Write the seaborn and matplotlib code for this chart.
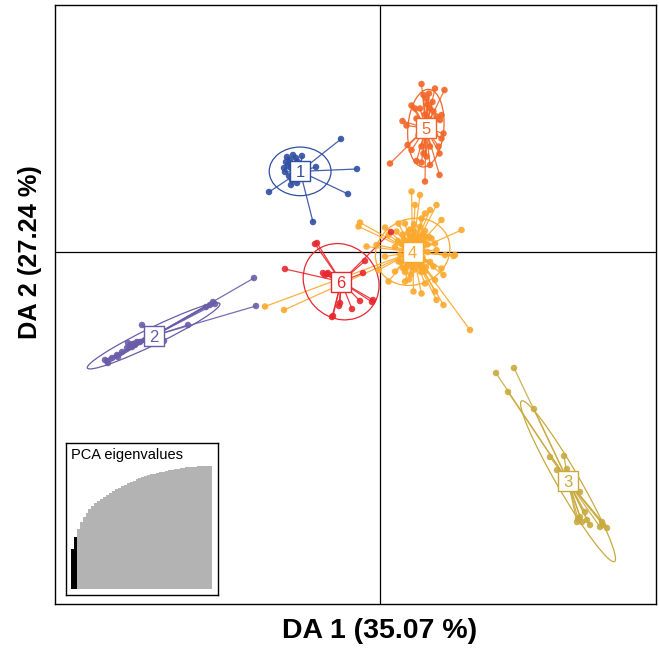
import numpy as np
import pandas as pd
import matplotlib
matplotlib.use("Agg")
import matplotlib.pyplot as plt
from matplotlib.patches import Ellipse
from matplotlib.collections import LineCollection
import seaborn as sns

sns.set_theme(style="white")
plt.rcParams['font.family'] = ['Liberation Sans', 'DejaVu Sans']
plt.rcParams['text.color'] = 'black'
plt.rcParams['axes.labelcolor'] = 'black'

# ---------------- data (DA1, DA2 coordinates per individual) ----------------
g1_x = [-0.78, -0.46, -0.64, -1.34, -2.22, -1.28, -1.86, -1.80, -1.74, -1.68, -1.84, -1.78,
        -1.90, -1.82, -1.76, -1.66, -1.60, -1.72, -1.64, -1.56, -1.88, -1.92, -1.78, -1.68]
g1_y = [2.26, 1.66, 1.16, 0.60, 1.20, 1.70, 1.90, 1.84, 1.94, 1.88, 1.74, 1.68,
        1.60, 1.52, 1.44, 1.38, 1.48, 1.62, 1.80, 1.92, 1.80, 1.68, 1.34, 1.56]

g2_x = [-2.52, -2.48, -3.34, -3.40, -3.48, -3.30, -3.84, -4.76, -4.32, -5.04, -4.96, -5.06,
        -5.16, -5.26, -5.36, -5.46, -5.44, -4.90, -4.86, -5.24, -5.50, -5.00, -4.94,
        -4.70, -4.80, -4.60]
g2_y = [-0.52, -1.08, -1.00, -1.06, -1.10, -1.04, -1.46, -1.46, -1.78, -1.82, -1.90, -1.92,
        -2.00, -2.06, -2.12, -2.18, -2.22, -1.86, -1.80, -2.10, -2.16, -1.88, -1.84,
        -1.76, -1.80, -1.70]

g3_x = [2.32, 2.68, 2.56, 3.08, 3.40, 3.68, 3.54, 3.74, 4.00, 3.96, 4.04, 4.20,
        4.46, 4.54, 4.40, 4.14, 4.00, 4.44, 4.10, 3.94]
g3_y = [-2.42, -2.32, -2.80, -3.14, -4.10, -4.08, -4.36, -4.34, -4.80, -5.34, -5.40, -5.46,
        -5.46, -5.52, -5.50, -5.36, -5.30, -5.40, -5.20, -5.40]

g4_x = [0.63, 0.80, 0.70, 1.13, 0.90, 1.00, 0.83, 1.23, -0.40, -0.43, 0.10, 0.37, 0.50, 1.63,
        -0.27, -0.07, 0.17, 0.33, 0.90, 1.03, 1.10, 1.30, 1.50, 1.13, -0.03, 0.30, 0.50, 0.80,
        0.90, 1.07, 1.23, 1.27, 1.10, 0.90, 0.67, 0.83, 1.10, 1.13, 1.27, 1.80, 0.50, 0.17,
        0.37, 0.10, -2.30, -1.92, 1.47,
        0.55, 0.60, 0.70, 0.75, 0.80, 0.85, 0.60, 0.50, 0.45, 0.65, 0.75, 0.85, 0.95, 0.95,
        0.40, 0.55, 0.70, 0.85, 0.60, 0.45, 1.00, 0.30, 0.70, 0.50, 0.80,
        0.62, 0.68, 0.72, 0.58, 0.66, 0.78, 0.52, 0.88, 0.64, 0.74, 0.56, 0.82, 0.48, 0.92,
        0.62, 0.42, 0.90, 0.68, 0.36, 0.98, 0.58, 0.78, 0.46, 0.86, 0.70,
        0.60, 0.64, 0.68, 0.72, 0.66, 0.62, 0.70, 0.74, 0.58, 0.76, 0.66, 0.63, 0.69, 0.71,
        0.57, 0.67, 0.61, 0.73, 0.65, 0.79, 0.54, 0.77, 0.59, 0.68, 0.64]
g4_y = [1.21, 1.14, 0.94, 0.94, 0.77, 0.84, 0.67, 0.64, 0.59, 0.51, 0.49, 0.57, 0.57, 0.44,
        0.11, 0.14, 0.34, 0.41, 0.31, 0.27, 0.17, -0.06, -0.06, 0.04, -0.36, -0.39, -0.33, -0.29,
        -0.39, -0.29, -0.33, -0.46, -0.56, -0.63, -0.79, -0.83, -0.79, -0.96, -1.06, -1.56, -0.59, -0.59,
        -0.19, -0.09, -1.09, -1.16, -0.08,
        0.20, 0.30, 0.25, 0.10, 0.20, 0.05, -0.10, 0.05, 0.15, -0.20, -0.15, -0.10, 0.00, 0.15,
        -0.05, -0.25, 0.40, 0.35, 0.45, 0.35, -0.20, 0.10, -0.35, -0.40, 0.50,
        0.12, -0.05, 0.18, 0.02, 0.32, -0.25, -0.15, 0.22, -0.30, 0.05, 0.38, -0.40, 0.25, -0.30,
        -0.45, -0.20, 0.42, 0.55, 0.22, 0.30, -0.55, 0.30, -0.32, -0.18, 0.08,
        0.02, -0.08, 0.10, -0.02, 0.16, -0.14, 0.06, -0.10, 0.12, 0.04, -0.20, 0.22, -0.04, 0.14,
        -0.06, 0.08, 0.18, -0.12, 0.00, 0.06, 0.04, -0.02, -0.16, 0.12, -0.24]

g5_x = [0.83, 1.10, 1.29, 0.98, 0.87, 0.63, 0.70, 0.45, 0.53, 1.23, 1.20, 1.27, 1.23, 1.17,
        1.19, 0.20, 0.55, 0.63, 0.73, 0.83, 1.00, 0.90, 1.19, 0.87, 0.83, 1.00, 0.93, 1.07,
        1.13, 0.73, 0.77, 1.10, 1.00, 0.80, 0.93, 0.95, 1.05, 0.90, 1.00]
g5_y = [3.36, 3.27, 3.24, 3.17, 3.14, 2.93, 2.87, 2.62, 2.53, 2.74, 2.64, 2.37, 2.27, 2.11,
        1.97, 1.77, 2.14, 2.04, 1.82, 1.79, 1.74, 1.41, 1.54, 1.97, 2.11, 2.11, 1.91, 2.81,
        2.71, 2.67, 2.34, 2.34, 2.87, 2.87, 3.07, 2.95, 3.00, 2.75, 2.65]

g6_x = [-1.30, -1.26, -1.90, -1.14, -1.06, -1.10, -1.04, -0.30, -0.34, -0.14, -0.40, -0.56,
        -0.82, -0.94, -0.96, -0.80, -0.16, 0.22]
g6_y = [0.16, 0.18, -0.34, -0.42, -0.44, -0.46, -0.42, -0.18, -0.42, -0.96, -0.98, -1.14,
        -1.08, -1.28, -1.30, -1.02, -1.00, 0.40]

groups = ["1", "2", "3", "4", "5", "6"]
colors = ["#2F4FA2", "#6A5CA8", "#C9AA3E", "#FBA92C", "#F26526", "#E8282F"]

# cumulative PCA eigenvalues (inset)
eig_vals = [40, 52, 60, 67, 72, 76, 80, 83, 86, 88, 90, 92.5, 94.5, 96.5, 98.5, 100,
            101.5, 103, 104.5, 106, 107.5, 108.5, 110, 111, 112, 113, 114, 115, 115.5,
            116.5, 117, 117.5, 118.5, 119, 119.5, 120, 120.5, 121, 121.3, 121.7, 122,
            122.3, 122.5, 122.7, 122.9, 123, 123.1, 123.2]
n_retained = 2

xlab = "DA 1 (35.07 %)"
ylab = "DA 2 (27.24 %)"

# ---------------- build table ----------------
xs = [g1_x, g2_x, g3_x, g4_x, g5_x, g6_x]
ys = [g1_y, g2_y, g3_y, g4_y, g5_y, g6_y]
rows = []
for g, gx, gy in zip(groups, xs, ys):
    for a, b in zip(gx, gy):
        rows.append((g, a, b))
df = pd.DataFrame(rows, columns=["grp", "DA1", "DA2"])
pal = dict(zip(groups, colors))

fig = plt.figure(figsize=(6.59, 6.50), dpi=100)
ax = fig.add_axes([55 / 659, 1 - 604 / 650, 601 / 659, 599 / 650])
xmin, xmax = -6.5, 5.52
ymin, ymax = -7.04, 4.94
ax.set_xlim(xmin, xmax)
ax.set_ylim(ymin, ymax)

ax.axhline(0, color="black", lw=0.9, zorder=1)
ax.axvline(0, color="black", lw=0.9, zorder=1)

cent = df.groupby("grp")[["DA1", "DA2"]].mean()

# spokes + ellipses
for g in groups:
    sub = df[df.grp == g]
    cx, cy = cent.loc[g]
    segs = [[(cx, cy), (a, b)] for a, b in zip(sub.DA1, sub.DA2)]
    ax.add_collection(LineCollection(segs, colors=pal[g], linewidths=0.9, alpha=0.9, zorder=2))
    cov = np.cov(sub.DA1, sub.DA2, bias=True)
    vals, vecs = np.linalg.eigh(cov)
    ang = np.degrees(np.arctan2(vecs[1, 1], vecs[0, 1]))
    e = Ellipse((cx, cy), 2 * 1.5 * np.sqrt(vals[1]), 2 * 1.5 * np.sqrt(vals[0]), angle=ang,
                fill=False, ec=pal[g], lw=0.9, zorder=2)
    ax.add_patch(e)

sns.scatterplot(data=df, x="DA1", y="DA2", hue="grp", palette=pal, s=22, linewidth=0,
                alpha=0.9, legend=False, ax=ax, zorder=3)

for g in groups:
    cx, cy = cent.loc[g]
    ax.scatter([cx], [cy], marker="s", s=190, facecolor="white", edgecolor=pal[g],
               linewidth=1.0, zorder=4)
    ax.text(cx, cy, g, color=pal[g], fontsize=12, ha="center", va="center_baseline", zorder=5)

ax.set_xticks([])
ax.set_yticks([])
ax.set_xlabel(xlab, fontsize=20.5, fontweight="bold")
ax.set_ylabel(ylab, fontsize=18.3, fontweight="bold")
ax.xaxis.set_label_coords((0 - xmin) / (xmax - xmin), -0.023, transform=ax.transAxes)
ax.xaxis.label.set_va("top")
ax.yaxis.set_label_coords(-0.0215, (0 - ymin) / (ymax - ymin), transform=ax.transAxes)
ax.yaxis.label.set_va("bottom")
for sp in ax.spines.values():
    sp.set_color("black")
    sp.set_linewidth(1.0)

# inset eigenvalues
ins = fig.add_axes([66 / 659, 1 - 595 / 650, 152 / 659, 152 / 650])
edf = pd.DataFrame({"pc": np.arange(len(eig_vals)), "val": eig_vals,
                    "kind": ["ret" if i < n_retained else "other" for i in range(len(eig_vals))]})
sns.barplot(data=edf, x="pc", y="val", hue="kind", palette={"ret": "black", "other": "#B3B3B3"},
            width=1.0, linewidth=0, dodge=False, legend=False, native_scale=True, ax=ins)
# slight overlap so no hairline gaps appear between adjacent bars
for p in ins.patches:
    p.set_x(p.get_x() - 0.06)
    p.set_width(p.get_width() + 0.12)
    p.set_linewidth(0)
# keep the retained (black) bars on top
for p in ins.patches:
    fc = p.get_facecolor()
    if fc[0] < 0.1:
        p.set_zorder(3)
ins.set_xlim(-2.2, 49.5)
ins.set_ylim(-6, 146)
ins.set_xticks([])
ins.set_yticks([])
ins.set_xlabel("")
ins.set_ylabel("")
for sp in ins.spines.values():
    sp.set_color("black")
    sp.set_linewidth(1.0)
    sp.set_zorder(5)
ins.text(0.03, 0.965, "PCA eigenvalues", transform=ins.transAxes, fontsize=10.5,
         ha="left", va="top")

fig.savefig("out.png", dpi=100)
